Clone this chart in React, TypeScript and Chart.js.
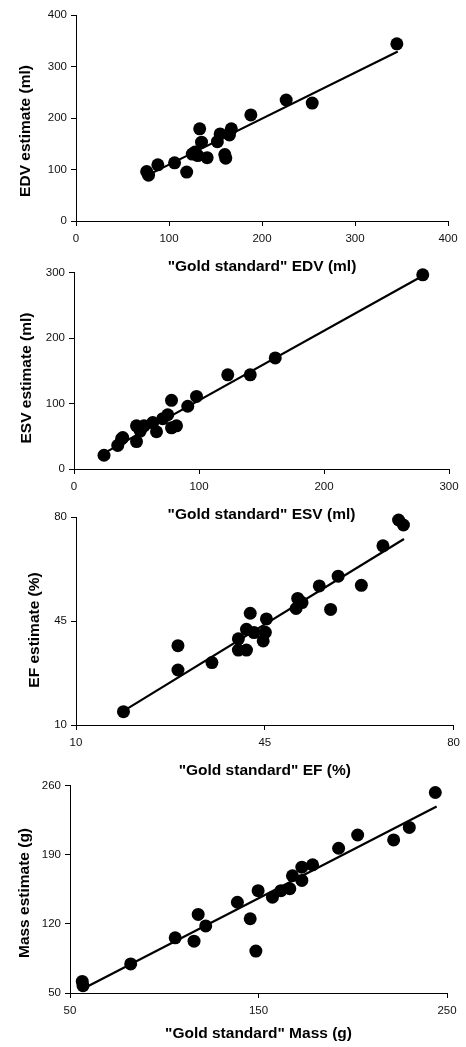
import { useEffect, useRef } from 'react';
import { Chart, registerables } from 'chart.js';

Chart.register(...registerables);

// ---- Data ----
const edvGold = [76, 78, 88, 106, 119, 125, 128, 131, 133, 135, 141, 152, 155, 160, 161, 165, 167, 188, 226, 254, 345];
const edvEst = [96, 89, 109, 113, 95, 130, 134, 127, 179, 153, 123, 154, 169, 129, 122, 167, 179, 206, 235, 229, 344];
const edvFitX = [81, 346];
const edvFitY = [92.5, 329];
const edvTicksX = [0, 100, 200, 300, 400];
const edvTicksY = [0, 100, 200, 300, 400];

const esvGold = [24, 35, 38, 39, 50, 50, 53, 56, 63, 66, 71, 75, 78, 78, 82, 91, 98, 123, 141, 161, 279];
const esvEst = [21, 36, 46, 48, 42, 66, 58, 66, 71, 57, 77, 83, 105, 63, 66, 96, 111, 144, 144, 170, 297];
const esvFitX = [22, 278];
const esvFitY = [22, 294.5];
const esvTicksX = [0, 100, 200, 300];
const esvTicksY = [0, 100, 200, 300];

const efGold = [18.8, 28.9, 28.9, 35.2, 40.1, 40.1, 41.6, 41.6, 42.3, 43, 44.7, 45.1, 45.3, 50.8, 51.1, 51.9, 55.1, 57.2, 58.6, 62.9, 66.9, 69.8, 70.7];
const efEst = [14.5, 36.7, 28.5, 31, 39, 35.2, 35.2, 42.2, 47.6, 41.1, 38.3, 41.2, 45.7, 49.2, 52.6, 51.2, 56.8, 48.9, 60.1, 57, 70.3, 79, 77.3];
const efFitX = [19.6, 70.8];
const efFitY = [15.6, 72.6];
const efTicksX = [10, 45, 80];
const efTicksY = [10, 45, 80];

const massGold = [56.5, 56.9, 82.2, 105.8, 115.8, 118, 122, 138.8, 145.6, 148.6, 149.8, 157.4, 161.9, 166.6, 168, 173, 173, 178.7, 192.5, 202.6, 221.7, 230, 243.8];
const massEst = [61.7, 57.4, 79.5, 105.9, 102.6, 129.7, 118, 142, 125.3, 92.5, 153.8, 147.1, 153.8, 155.8, 168.9, 177.6, 164.2, 180, 196.8, 210.2, 205.2, 217.9, 253.3];
const massFitX = [58.7, 244.5];
const massFitY = [56, 239.2];
const massTicksX = [50, 150, 250];
const massTicksY = [50, 120, 190, 260];

const xTitles = ['"Gold standard" EDV (ml)', '"Gold standard" ESV (ml)', '"Gold standard" EF (%)', '"Gold standard" Mass (g)'];
const yTitles = ['EDV estimate (ml)', 'ESV estimate (ml)', 'EF estimate (%)', 'Mass estimate (g)'];

const FONT = '"Liberation Sans", Arial, Helvetica, sans-serif';

type PanelCfg = {
  top: number; height: number; padTop: number; chartBottom: number;
  left: number; right: number; xTitleY: number; yTitleX: number; yTitleY: number;
  gold: number[]; est: number[]; fitX: number[]; fitY: number[];
  ticksX: number[]; ticksY: number[]; xTitle: string; yTitle: string;
};

const panels: PanelCfg[] = [
  { top: 0, height: 285, padTop: 15, chartBottom: 221, left: 76, right: 448, xTitleY: 267, yTitleX: 26, yTitleY: 131,
    gold: edvGold, est: edvEst, fitX: edvFitX, fitY: edvFitY, ticksX: edvTicksX, ticksY: edvTicksY, xTitle: xTitles[0], yTitle: yTitles[0] },
  { top: 262, height: 268, padTop: 8, chartBottom: 207, left: 74, right: 449, xTitleY: 253, yTitleX: 27, yTitleY: 378 - 262,
    gold: esvGold, est: esvEst, fitX: esvFitX, fitY: esvFitY, ticksX: esvTicksX, ticksY: esvTicksY, xTitle: xTitles[1], yTitle: yTitles[1] },
  { top: 505, height: 275, padTop: 12, chartBottom: 220, left: 76, right: 457, xTitleY: 266, yTitleX: 35, yTitleY: 630 - 505,
    gold: efGold, est: efEst, fitX: efFitX, fitY: efFitY, ticksX: efTicksX, ticksY: efTicksY, xTitle: xTitles[2], yTitle: yTitles[2] },
  { top: 775, height: 272, padTop: 9, chartBottom: 218, left: 70, right: 447, xTitleY: 259, yTitleX: 25, yTitleY: 893 - 775,
    gold: massGold, est: massEst, fitX: massFitX, fitY: massFitY, ticksX: massTicksX, ticksY: massTicksY, xTitle: xTitles[3], yTitle: yTitles[3] },
];

const TITLE_SIZE = 15.5;
const TITLE_LH = TITLE_SIZE * 1.2;

const yTitlePlugin = {
  id: 'yTitleText',
  afterDraw(chart: any, _args: any, opts: any) {
    const ctx = chart.ctx;
    ctx.save();
    ctx.translate(opts.x, opts.y);
    ctx.rotate(-Math.PI / 2);
    ctx.font = `bold ${TITLE_SIZE}px ${FONT}`;
    ctx.fillStyle = '#000';
    ctx.textAlign = 'center';
    ctx.textBaseline = 'middle';
    ctx.fillText(opts.text, 0, 0);
    ctx.restore();
  },
};

function Panel({ cfg }: { cfg: PanelCfg }) {
  const ref = useRef<HTMLCanvasElement>(null);
  useEffect(() => {
    const points = cfg.gold.map((g, i) => ({ x: g, y: cfg.est[i] }));
    const fit = cfg.fitX.map((x, i) => ({ x, y: cfg.fitY[i] }));
    const axisCommon = {
      grid: { display: true, drawOnChartArea: false, drawTicks: true, tickLength: 5, color: '#000', lineWidth: 1 },
      border: { display: true, color: '#000', width: 1 },
    };
    const chart = new Chart(ref.current!, {
      type: 'scatter',
      plugins: [yTitlePlugin],
      data: {
        datasets: [
          {
            data: fit,
            showLine: true,
            borderColor: '#000',
            borderWidth: 2.2,
            pointRadius: 0,
            pointHoverRadius: 0,
            fill: false,
            clip: false as any,
            order: 2,
          },
          {
            data: points,
            backgroundColor: '#000',
            borderColor: '#000',
            borderWidth: 0,
            pointRadius: 6.5,
            pointHoverRadius: 6.5,
            clip: false as any,
            order: 1,
          },
        ],
      },
      options: {
        responsive: false,
        animation: false,
        events: [],
        layout: { padding: { top: cfg.padTop, left: 0, right: 466 - cfg.right, bottom: 0 } },
        plugins: {
          legend: { display: false },
          tooltip: { enabled: false },
          yTitleText: { text: cfg.yTitle, x: cfg.yTitleX, y: cfg.yTitleY },
        },
        scales: {
          x: {
            type: 'linear',
            min: cfg.ticksX[0],
            max: cfg.ticksX[cfg.ticksX.length - 1],
            afterBuildTicks: (s: any) => { s.ticks = cfg.ticksX.map((v) => ({ value: v })); },
            afterFit: (s: any) => { s.height = cfg.height - cfg.chartBottom; },
            ticks: { color: '#111', font: { family: FONT, size: 11.5 }, padding: 6, maxRotation: 0, autoSkip: false },
            title: {
              display: true, text: cfg.xTitle, color: '#000',
              font: { family: FONT, size: TITLE_SIZE, weight: 'bold' },
              padding: { top: 0, bottom: cfg.height - cfg.xTitleY - TITLE_LH / 2 },
            },
            ...axisCommon,
          },
          y: {
            type: 'linear',
            min: cfg.ticksY[0],
            max: cfg.ticksY[cfg.ticksY.length - 1],
            afterBuildTicks: (s: any) => { s.ticks = cfg.ticksY.map((v) => ({ value: v })); },
            afterFit: (s: any) => { s.width = cfg.left; },
            ticks: { color: '#111', font: { family: FONT, size: 11.5 }, padding: 4, autoSkip: false },
            title: { display: false },
            ...axisCommon,
          },
        },
      } as any,
    });
    return () => chart.destroy();
  }, [cfg]);
  return (
    <div style={{ position: 'absolute', left: 0, top: cfg.top, width: 466, height: cfg.height }}>
      <canvas ref={ref} width={466} height={cfg.height} style={{ display: 'block', width: 466, height: cfg.height }} />
    </div>
  );
}

export default function App() {
  return (
    <div style={{ position: 'absolute', left: 0, top: 0, width: 466, height: 1047, background: '#fff' }}>
      {panels.map((p, i) => (
        <Panel key={i} cfg={p} />
      ))}
    </div>
  );
}
